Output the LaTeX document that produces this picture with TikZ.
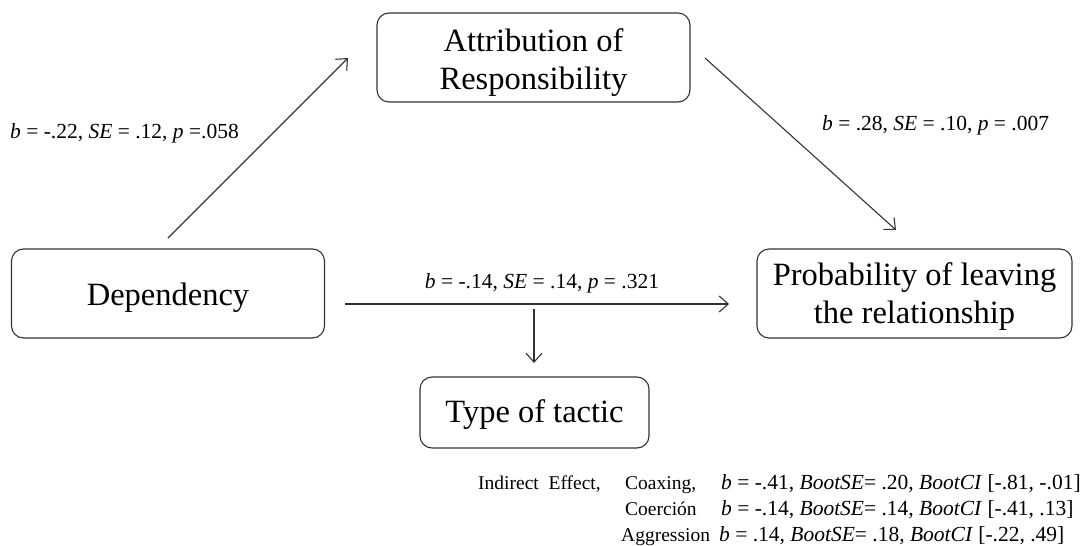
\documentclass[tikz,border=0pt]{standalone}
\usepackage{fontspec}
\setmainfont{Liberation Serif}
\usetikzlibrary{arrows.meta}
\newcommand{\lowerby}[2]{\raisebox{-#1}[\height][\depth]{#2}}
\begin{document}
\begin{tikzpicture}[x=1pt,y=-1pt,
  box/.style={draw=black!80,line width=1.1pt,rounded corners=12pt,align=center,
    font=\fontsize{32.5}{38}\selectfont,inner sep=0pt},
  arr/.style={draw=black!80,line width=1.1pt,-{Straight Barb[length=9pt,width=16pt,line width=1.1pt]}},
  lab/.style={font=\fontsize{21.5}{24}\selectfont,inner sep=0pt},
  eff/.style={font=\fontsize{19.5}{24}\selectfont,inner sep=0pt,anchor=base west},
  effb/.style={font=\fontsize{21.5}{24}\selectfont,inner sep=0pt,anchor=base west}]
\useasboundingbox (0,0) rectangle (1085,546);
\node[box,minimum width=313pt,minimum height=89pt] (attr) at (533.5,57.5) {\lowerby{5pt}{Attribution of}\\\lowerby{5pt}{Responsibility}};
\node[box,minimum width=313pt,minimum height=89pt] (dep) at (168,293.5) {\lowerby{4pt}{Dependency}};
\node[box,minimum width=315pt,minimum height=89pt] (prob) at (914.5,293.5) {\lowerby{3.5pt}{Probability of leaving}\\\lowerby{3.5pt}{the relationship}};
\node[box,minimum width=229pt,minimum height=71pt] (type) at (534.5,412.5) {\lowerby{2pt}{Type of tactic}};
% connectors
\coordinate (a1s) at (168,238);
\coordinate (a1e) at (348,58);
\coordinate (a2s) at (705,58);
\coordinate (a2e) at (896,230);
\coordinate (hs) at (345,304);
\coordinate (he) at (729,304);
\coordinate (vs) at (534,309);
\coordinate (ve) at (534,363);
\draw[arr] (a1s) -- (a1e);
\draw[arr] (a2s) -- (a2e);
\draw[arr] (hs) -- (he);
\draw[arr] (vs) -- (ve);
% labels
\node[lab,anchor=west] (l1) at (10,133) {\textit{b} = -.22, \textit{SE} = .12, \textit{p} =.058};
\node[lab,anchor=west] (l2) at (822,125) {\textit{b} = .28, \textit{SE} = .10, \textit{p} = .007};
\node[lab] (l3) at (542,283) {\textit{b} = -.14, \textit{SE} = .14, \textit{p} = .321};
\node[eff] (ie) at (478,489) {Indirect\ \ Effect,};
\node[eff] (c1) at (625,489) {Coaxing,};
\node[eff] (c2) at (625,515) {Coerción};
\node[eff] (c3) at (621,541) {Aggression};
\node[effb] (s1) at (721,489) {\textit{b} = -.41, \textit{BootSE}= .20, \textit{BootCI} [-.81, -.01]};
\node[effb] (s2) at (721,515) {\textit{b} = -.14, \textit{BootSE}= .14, \textit{BootCI} [-.41, .13]};
\node[effb] (s3) at (719,541) {\textit{b} = .14, \textit{BootSE}= .18, \textit{BootCI} [-.22, .49]};
\end{tikzpicture}
\end{document}
